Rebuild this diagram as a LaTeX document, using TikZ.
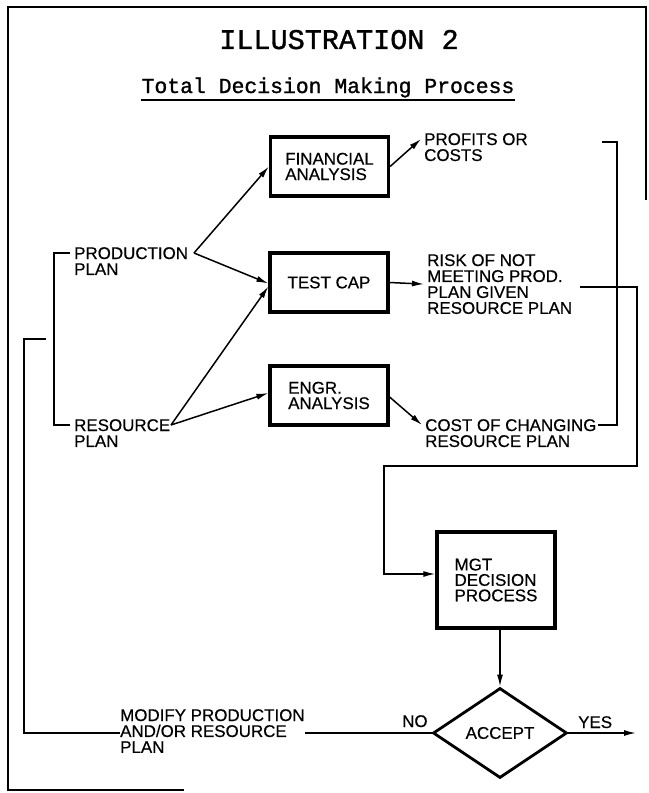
\documentclass[tikz,border=0pt]{standalone}
\usepackage{fontspec}
\newfontfamily\labfont{Liberation Sans}[FakeBold=0.5]
\newfontfamily\ttlfont{Liberation Mono}[FakeBold=1.2]
\usetikzlibrary{arrows.meta,shapes.geometric,calc}
\begin{document}
\begin{tikzpicture}[x=1bp,y=-1bp,
  box/.style={draw,line width=3.2bp,minimum width=118bp,minimum height=59bp,inner sep=0pt,
    font=\labfont\fontsize{17}{15.5}\selectfont,align=left},
  lbl/.style={inner sep=0pt,anchor=north west,align=left,font=\labfont\fontsize{17}{16}\selectfont},
  conn/.style={line width=1.5bp},
  arr/.style={conn,-{Latex[length=12bp,width=6bp]}},
  frame/.style={line width=1.6bp}
]
\useasboundingbox (0,0) rectangle (649,793);
% frame
\draw[frame] (184,790) -- (8,790) -- (8,7) -- (646,7) -- (646,200);
% titles
\node[font=\ttlfont\fontsize{28.6}{30}\selectfont,inner sep=0pt,anchor=base] (t1) at (339,49) {ILLUSTRATION 2};
\node[font=\ttlfont\fontsize{21.5}{24}\selectfont,inner sep=0pt,anchor=base] (t2) at (328,93) {Total Decision Making Process};
\draw[conn] ([yshift=-7bp]t2.base west) -- ([yshift=-7bp]t2.base east);
% boxes
\node[box] (fin) at (329.5,166.5) {FINANCIAL\\ANALYSIS};
\node[box] (test) at (329,282.5) {TEST CAP};
\node[box] (engr) at (329,395.5) {ENGR.\\ANALYSIS};
\node[box,minimum height=96bp] (mgt) at (496,580) {MGT\\DECISION\\PROCESS};
\node[diamond,draw,line width=2.8bp,minimum width=134bp,minimum height=90bp,inner sep=0pt,
  font=\labfont\fontsize{17}{16}\selectfont] (acc) at (500,733) {ACCEPT};
% labels
\node[lbl] (prod) at (74,247) {PRODUCTION\\PLAN};
\node[lbl] (res) at (74,419) {RESOURCE\\PLAN};
\node[lbl] (prof) at (424,133) {PROFITS OR\\COSTS};
\node[lbl] (risk) at (427,254) {RISK OF NOT\\MEETING PROD.\\PLAN GIVEN\\RESOURCE PLAN};
\node[lbl] (cost) at (425,419) {COST OF CHANGING\\RESOURCE PLAN};
\node[lbl] (mod) at (120,709) {MODIFY PRODUCTION\\AND/OR RESOURCE\\PLAN};
\node[lbl] (no) at (402,715) {NO};
\node[lbl] (yes) at (578,716) {YES};
% free ends
\coordinate (pv) at (194,253);
\coordinate (rv) at (171,425);
\coordinate (bt) at (602,142);
\coordinate (yesend) at (636,733);
\coordinate (fb) at (46,339);
% left bracket
\draw[conn] ([xshift=-4bp,yshift=-6bp]prod.north west) -- ++(-16,0) |- ([xshift=-4bp,yshift=-6bp]res.north west);
% arrows from plans
\draw[arr] (pv) -- (fin.west);
\draw[arr] (pv) -- ([yshift=-1bp]test.west);
\draw[arr] (rv) -- ([yshift=-4bp]test.west);
\draw[arr] (rv) -- ([yshift=2.5bp]engr.west);
% outputs
\draw[arr] (fin.east) -- ([xshift=-3bp,yshift=-6bp]prof.north west);
\draw[arr] (test.east) -- ([xshift=-3bp]risk.west);
\draw[arr] ([yshift=-1.5bp]engr.east) -- ([xshift=-3bp,yshift=-6bp]cost.north west);
% right bracket
\draw[conn] (bt) -- ++(15,0) |- ([xshift=1bp,yshift=-6bp]cost.north east);
% risk loop to mgt
\draw[arr] ([xshift=8bp,yshift=-3bp]risk.east) -| (637,466) -- (384,466) |- ([yshift=6bp]mgt.west);
% mgt to accept
\draw[arr] (mgt.south -| acc.north) -- (acc.north);
\draw[arr] (acc.east) -- (yesend);
\draw[conn] (acc.west) -- (acc.west -| mod.east);
\draw[conn] (mod.west |- acc.west) -- ++(-96,0) |- (fb);
\end{tikzpicture}
\end{document}
